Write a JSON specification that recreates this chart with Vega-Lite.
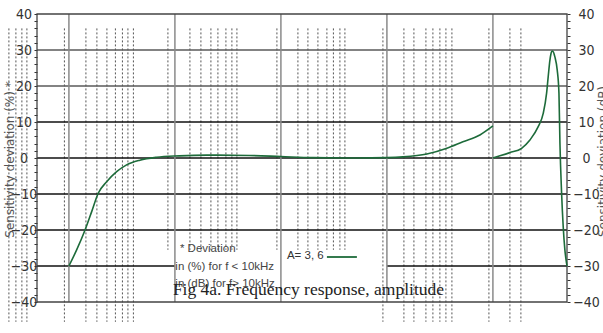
{
  "$schema": "https://vega.github.io/schema/vega-lite/v6.json",
  "width": 530,
  "height": 288,
  "autosize": {"type": "none"},
  "padding": {"left": 37, "top": 14, "right": 36, "bottom": 31},
  "background": "white",
  "config": {"view": {"stroke": null}},
  "data": {"values": [{}]},
  "datasets": {
    "curve": [
      {"f": 1, "v": -30, "part": "pct"},
      {"f": 1.18, "v": -25.6, "part": "pct"},
      {"f": 1.42, "v": -20, "part": "pct"},
      {"f": 1.64, "v": -14.9, "part": "pct"},
      {"f": 1.89, "v": -9.8, "part": "pct"},
      {"f": 2.27, "v": -6.6, "part": "pct"},
      {"f": 2.82, "v": -3.8, "part": "pct"},
      {"f": 3.5, "v": -1.9, "part": "pct"},
      {"f": 4.67, "v": -0.6, "part": "pct"},
      {"f": 6.7, "v": 0.2, "part": "pct"},
      {"f": 11, "v": 0.6, "part": "pct"},
      {"f": 20, "v": 0.8, "part": "pct"},
      {"f": 50, "v": 0.7, "part": "pct"},
      {"f": 100, "v": 0.4, "part": "pct"},
      {"f": 200, "v": 0.1, "part": "pct"},
      {"f": 500, "v": 0, "part": "pct"},
      {"f": 1000, "v": 0.1, "part": "pct"},
      {"f": 1416, "v": 0.3, "part": "pct"},
      {"f": 2384, "v": 1.1, "part": "pct"},
      {"f": 3680, "v": 2.7, "part": "pct"},
      {"f": 5210, "v": 4.5, "part": "pct"},
      {"f": 7540, "v": 6.4, "part": "pct"},
      {"f": 10000, "v": 8.9, "part": "pct"},
      {"f": 10000, "v": 0, "part": "dB"},
      {"f": 11650, "v": 0.6, "part": "dB"},
      {"f": 14460, "v": 1.5, "part": "dB"},
      {"f": 18650, "v": 2.7, "part": "dB"},
      {"f": 22350, "v": 5.0, "part": "dB"},
      {"f": 26750, "v": 8.7, "part": "dB"},
      {"f": 29830, "v": 12.4, "part": "dB"},
      {"f": 32100, "v": 18, "part": "dB"},
      {"f": 33240, "v": 22.6, "part": "dB"},
      {"f": 34510, "v": 27.2, "part": "dB"},
      {"f": 35800, "v": 29.5, "part": "dB"},
      {"f": 36560, "v": 29.7, "part": "dB"},
      {"f": 38430, "v": 28.1, "part": "dB"},
      {"f": 40440, "v": 24.4, "part": "dB"},
      {"f": 41980, "v": 18, "part": "dB"},
      {"f": 42890, "v": 4.1, "part": "dB"},
      {"f": 44470, "v": -9.8, "part": "dB"},
      {"f": 46050, "v": -19.1, "part": "dB"},
      {"f": 47770, "v": -25.6, "part": "dB"},
      {"f": 49560, "v": -29.3, "part": "dB"},
      {"f": 50000, "v": -30, "part": "dB"}
    ],
    "dots": [
      {"f": 0.2716}, {"f": 0.3162}, {"f": 0.3601}, {"f": 0.4015},
      {"f": 0.9069}, {"f": 1.447}, {"f": 1.837}, {"f": 2.283}, {"f": 2.746}, {"f": 3.198}, {"f": 3.603}, {"f": 4.06},
      {"f": 8.59}, {"f": 13.86}, {"f": 17.59}, {"f": 21.86}, {"f": 25.45}, {"f": 30.28}, {"f": 34.49}, {"f": 38.45},
      {"f": 91.68}, {"f": 144.7}, {"f": 179.8}, {"f": 223.4}, {"f": 271.6}, {"f": 312.8}, {"f": 360.3}, {"f": 401.6},
      {"f": 916.9}, {"f": 1447}, {"f": 1798}, {"f": 2333}, {"f": 2716}, {"f": 3162}, {"f": 3603}, {"f": 4105},
      {"f": 9169}, {"f": 14470}, {"f": 18370}
    ],
    "hgrid": [{"v": 30}, {"v": 20}, {"v": 10}, {"v": 0}, {"v": -10}, {"v": -20}],
    "vgrid": [{"f": 1}, {"f": 10}, {"f": 100}, {"f": 1000}, {"f": 10000}]
  },
  "resolve": {"axis": {"y": "independent"}},
  "layer": [
    {
      "data": {"name": "dots"},
      "transform": [{"filter": "datum.f < 8 || datum.f > 900"}],
      "mark": {"type": "rule", "color": "#555", "strokeWidth": 1, "strokeDash": [2, 2]},
      "encoding": {
        "x": {"field": "f", "type": "quantitative", "scale": {"type": "log", "domain": [0.5, 50000], "nice": false}, "axis": null},
        "y": {"datum": 36, "type": "quantitative", "scale": {"domain": [-40, 40], "nice": false, "zero": false}, "axis": null},
        "y2": {"datum": -45.5}
      }
    },
    {
      "data": {"name": "dots"},
      "transform": [{"filter": "datum.f >= 8 && datum.f <= 900"}],
      "mark": {"type": "rule", "color": "#555", "strokeWidth": 1, "strokeDash": [2, 2]},
      "encoding": {
        "x": {"field": "f", "type": "quantitative", "axis": null},
        "y": {"datum": 36, "type": "quantitative", "axis": null},
        "y2": {"datum": -25.5}
      }
    },
    {
      "data": {"name": "hgrid"},
      "mark": {"type": "rule", "strokeWidth": 1.3},
      "encoding": {
        "y": {
          "field": "v", "type": "quantitative",
          "axis": {
            "orient": "right", "values": [-40,-38,-36,-34,-32,-30,-28,-26,-24,-22,-20,-18,-16,-14,-12,-10,-8,-6,-4,-2,0,2,4,6,8,10,12,14,16,18,20,22,24,26,28,30,32,34,36,38,40],
            "labelExpr": "datum.value % 10 === 0 ? datum.label : ''",
            "labelOverlap": false, "labelFlush": false,
            "domain": false, "grid": false, "ticks": true, "tickSize": 3, "tickColor": "#333",
            "labelFont": "Liberation Sans Narrow, DejaVu Sans Condensed, sans-serif", "labelFontSize": 14, "labelColor": "#333",
            "labelAlign": "center", "labelPadding": 16,
            "title": "Sensitivity deviation (dB)", "titleFont": "DejaVu Sans", "titleFontSize": 12, "titleFontWeight": "normal", "titleColor": "#555",
            "titleAngle": 270, "titleX": 30, "titleY": 147, "titleBaseline": "top", "titleAlign": "center"
          }
        },
        "color": {"condition": {"test": "datum.v >= 20", "value": "#5a5a5a"}, "value": "#111"}
      }
    },
    {
      "mark": {"type": "rule", "color": "#111", "strokeWidth": 1.3},
      "encoding": {
        "x": {"datum": 0.5, "type": "quantitative", "axis": null},
        "x2": {"datum": 10},
        "y": {"datum": -30, "type": "quantitative", "axis": null}
      }
    },
    {
      "mark": {"type": "rule", "color": "#111", "strokeWidth": 1.3},
      "encoding": {
        "x": {"datum": 1000, "type": "quantitative", "axis": null},
        "x2": {"datum": 50000},
        "y": {"datum": -30, "type": "quantitative", "axis": null}
      }
    },
    {
      "data": {"name": "vgrid"},
      "mark": {"type": "rule", "color": "#8a8a8a", "strokeWidth": 1.5},
      "encoding": {
        "x": {"field": "f", "type": "quantitative", "axis": null},
        "y": {"datum": -40, "type": "quantitative", "axis": null},
        "y2": {"datum": 40}
      }
    },
    {
      "mark": {"type": "rect", "fillOpacity": 0, "stroke": "#444", "strokeWidth": 1.3},
      "encoding": {
        "x": {"datum": 0.5, "type": "quantitative", "axis": null},
        "x2": {"datum": 50000},
        "y": {"datum": -40, "type": "quantitative", "axis": null},
        "y2": {"datum": 40}
      }
    },
    {
      "data": {"name": "curve"},
      "mark": {"type": "line", "color": "#1d6b3a", "strokeWidth": 1.6, "interpolate": "monotone"},
      "encoding": {
        "x": {
          "field": "f", "type": "quantitative",
          "axis": {
            "values": [1, 10, 100, 1000, 10000, 50000],
            "labelExpr": "datum.value >= 10000 ? format(datum.value / 1000, 'd') + 'k' : format(datum.value, 'd')",
            "labelOverlap": false, "labelFlush": false,
            "domain": false, "grid": false, "ticks": false,
            "labelPadding": 10, "labelFont": "Liberation Sans Narrow, DejaVu Sans Condensed, sans-serif", "labelFontSize": 13, "labelColor": "#222",
            "title": null
          }
        },
        "y": {
          "field": "v", "type": "quantitative",
          "axis": {
            "orient": "left", "values": [-40,-38,-36,-34,-32,-30,-28,-26,-24,-22,-20,-18,-16,-14,-12,-10,-8,-6,-4,-2,0,2,4,6,8,10,12,14,16,18,20,22,24,26,28,30,32,34,36,38,40],
            "labelExpr": "datum.value % 10 === 0 ? datum.label : ''",
            "labelOverlap": false, "labelFlush": false,
            "domain": false, "grid": false, "ticks": true, "tickSize": 3, "tickColor": "#333",
            "labelFont": "Liberation Sans Narrow, DejaVu Sans Condensed, sans-serif", "labelFontSize": 14, "labelColor": "#333",
            "labelAlign": "center", "labelPadding": 10.5,
            "title": "Sensitivity deviation (%) *", "titleFont": "DejaVu Sans", "titleFontSize": 12, "titleFontWeight": "normal", "titleColor": "#555",
            "titleAngle": 270, "titleX": -33, "titleY": 145, "titleBaseline": "top", "titleAlign": "center"
          }
        },
        "detail": {"field": "part"}
      }
    },
    {
      "mark": {"type": "text", "text": "* Deviation", "align": "left", "baseline": "middle", "font": "Liberation Sans", "fontSize": 11.5, "color": "#444"},
      "encoding": {"x": {"datum": 11.15, "type": "quantitative", "axis": null}, "y": {"datum": -25.2, "type": "quantitative", "axis": null}}
    },
    {
      "mark": {"type": "text", "text": "in (%) for f < 10kHz", "align": "left", "baseline": "middle", "font": "Liberation Sans", "fontSize": 11.5, "color": "#444"},
      "encoding": {"x": {"datum": 10.1, "type": "quantitative", "axis": null}, "y": {"datum": -30.3, "type": "quantitative", "axis": null}}
    },
    {
      "mark": {"type": "text", "text": "in (dB) for f> 10kHz", "align": "left", "baseline": "middle", "font": "Liberation Sans", "fontSize": 11.5, "color": "#444"},
      "encoding": {"x": {"datum": 10.1, "type": "quantitative", "axis": null}, "y": {"datum": -35, "type": "quantitative", "axis": null}}
    },
    {
      "mark": {"type": "text", "text": "A= 3, 6", "align": "left", "baseline": "middle", "font": "Liberation Sans", "fontSize": 11.5, "color": "#333"},
      "encoding": {"x": {"datum": 114, "type": "quantitative", "axis": null}, "y": {"datum": -27.2, "type": "quantitative", "axis": null}}
    },
    {
      "mark": {"type": "rule", "color": "#1d6b3a", "strokeWidth": 1.8},
      "encoding": {"x": {"datum": 271.6, "type": "quantitative", "axis": null}, "x2": {"datum": 521}, "y": {"datum": -27.5, "type": "quantitative", "axis": null}}
    },
    {
      "mark": {"type": "text", "text": "Fig 4a. Frequency response, amplitude", "align": "center", "baseline": "alphabetic", "font": "Liberation Serif", "fontSize": 17.5, "color": "#222"},
      "encoding": {"x": {"datum": 182, "type": "quantitative", "axis": null}, "y": {"datum": -38, "type": "quantitative", "axis": null}}
    }
  ]
}
